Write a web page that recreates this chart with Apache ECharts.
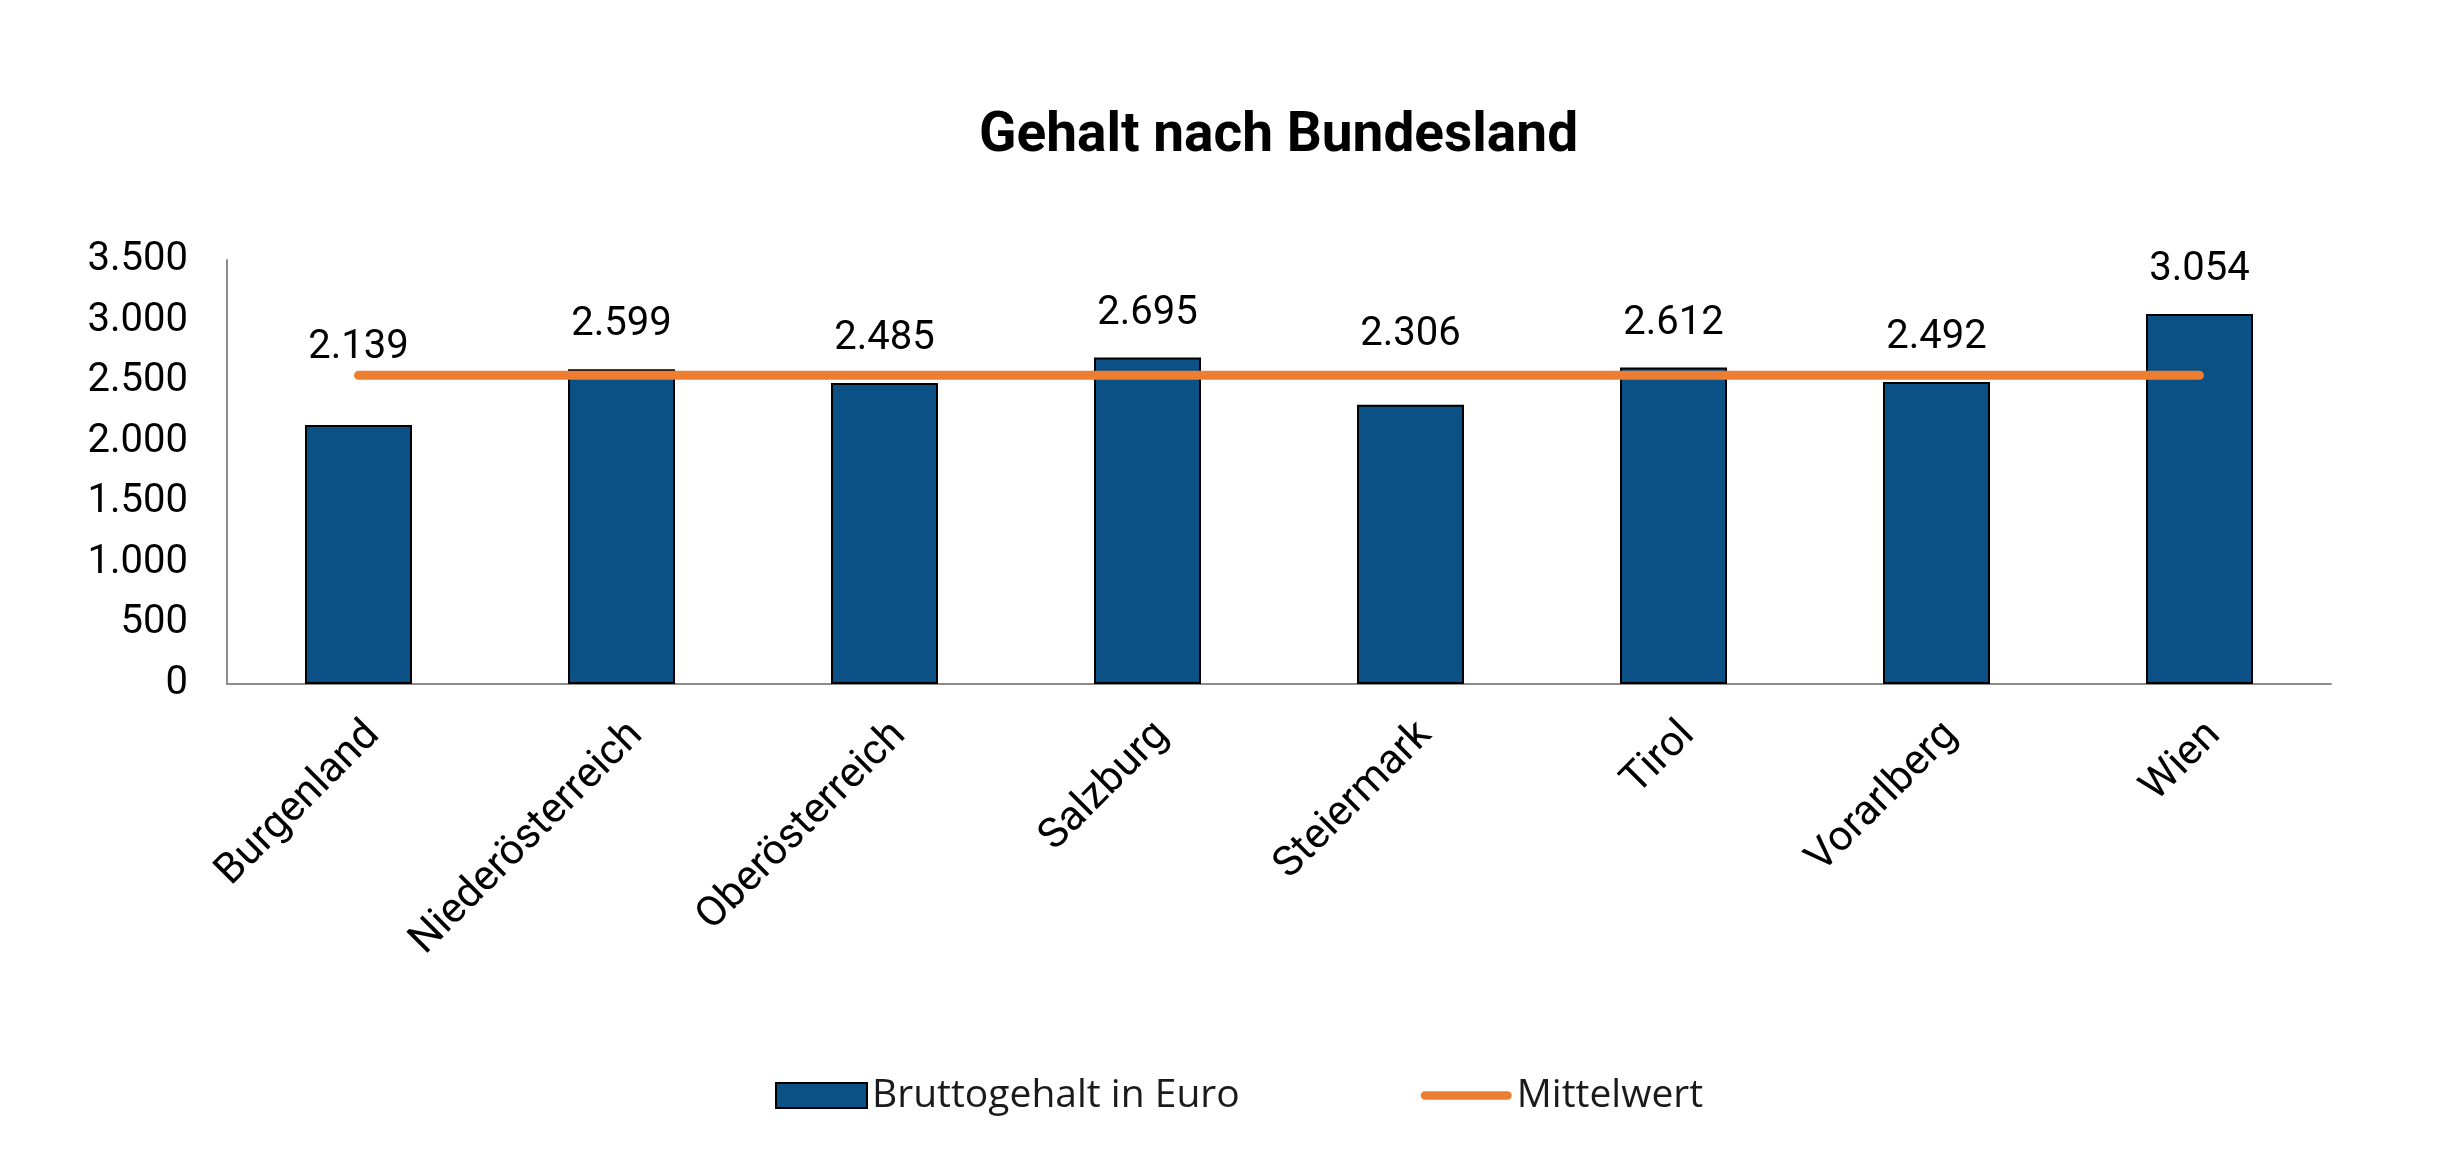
<!DOCTYPE html>
<html>
<head>
<meta charset="utf-8">
<script src="https://cdn.jsdelivr.net/npm/echarts@6/dist/echarts.min.js"></script>
<style>
html,body{margin:0;padding:0;background:#fff;}
#chart{width:2464px;height:1174px;}
</style>
</head>
<body>
<div id="chart"></div>
<script>
const categories = ['Burgenland','Niederösterreich','Oberösterreich','Salzburg','Steiermark','Tirol','Vorarlberg','Wien'];
const bruttogehalt = [2139, 2599, 2485, 2695, 2306, 2612, 2492, 3054];
const mittelwert = [2548, 2548, 2548, 2548, 2548, 2548, 2548, 2548];
const yTicks = { min: 0, max: 3500, interval: 500 };

// label adjustments (two labels sit above the mean line)
const labelShift = { 0: -33, 4: -26 };

const fmt = v => String(v).replace(/\B(?=(\d{3})+(?!\d))/g, '.');

const chart = echarts.init(document.getElementById('chart'));
chart.setOption({
  backgroundColor: '#ffffff',
  animation: false,
  title: {
    text: 'Gehalt nach Bundesland',
    left: 979,
    top: 110,
    padding: 0,
    textStyle: { fontFamily: 'Roboto', fontWeight: 'bold', fontSize: 55, color: '#000000' }
  },
  legend: {
    left: 775,
    top: 1076,
    padding: 0,
    itemGap: 181,
    itemWidth: 91,
    itemHeight: 25,
    textStyle: { fontFamily: 'Open Sans', fontSize: 39, color: '#1a1a1a' },
    data: [
      { name: 'Bruttogehalt in Euro', icon: 'rect', itemStyle: { color: '#0b5186', borderColor: '#000', borderWidth: 2 } },
      { name: 'Mittelwert',
        icon: 'path://M4.5,0 L92.5,0 A4.5,4.5 0 0 1 92.5,9 L4.5,9 A4.5,4.5 0 0 1 4.5,0 Z',
        itemStyle: { color: '#ed7d31', borderWidth: 0 } }
    ]
  },
  grid: { left: 227, right: 133, top: 260, bottom: 490, containLabel: false },
  xAxis: {
    type: 'category',
    data: categories,
    axisLine: { show: true, lineStyle: { color: '#8c8c8c', width: 2 } },
    axisTick: { show: false },
    axisLabel: {
      rotate: 45,
      interval: 0,
      margin: 30,
      align: 'right',
      verticalAlign: 'top',
      fontFamily: 'Roboto',
      fontSize: 42,
      color: '#000000'
    }
  },
  yAxis: {
    type: 'value',
    min: yTicks.min,
    max: yTicks.max,
    interval: yTicks.interval,
    splitLine: { show: false },
    axisLine: { show: true, lineStyle: { color: '#8c8c8c', width: 2 } },
    axisTick: { show: false },
    axisLabel: {
      margin: 39,
      fontFamily: 'Roboto',
      fontSize: 40,
      color: '#000000',
      formatter: v => fmt(v)
    }
  },
  series: [
    {
      name: 'Bruttogehalt in Euro',
      type: 'bar',
      barWidth: 107,
      data: bruttogehalt.map((v, i) => labelShift[i] !== undefined
        ? { value: v, label: { offset: [0, labelShift[i]] } }
        : v),
      itemStyle: { color: '#0b5186', borderColor: '#000000', borderWidth: 2 },
      label: {
        show: true,
        position: 'top',
        distance: 24,
        fontFamily: 'Roboto',
        fontSize: 40,
        color: '#000000',
        formatter: p => fmt(p.value)
      },
      z: 2
    },
    {
      name: 'Mittelwert',
      type: 'line',
      data: mittelwert,
      symbol: 'none',
      lineStyle: { color: '#ed7d31', width: 9, cap: 'round' },
      itemStyle: { color: '#ed7d31' },
      z: 5
    }
  ]
});
</script>
</body>
</html>
